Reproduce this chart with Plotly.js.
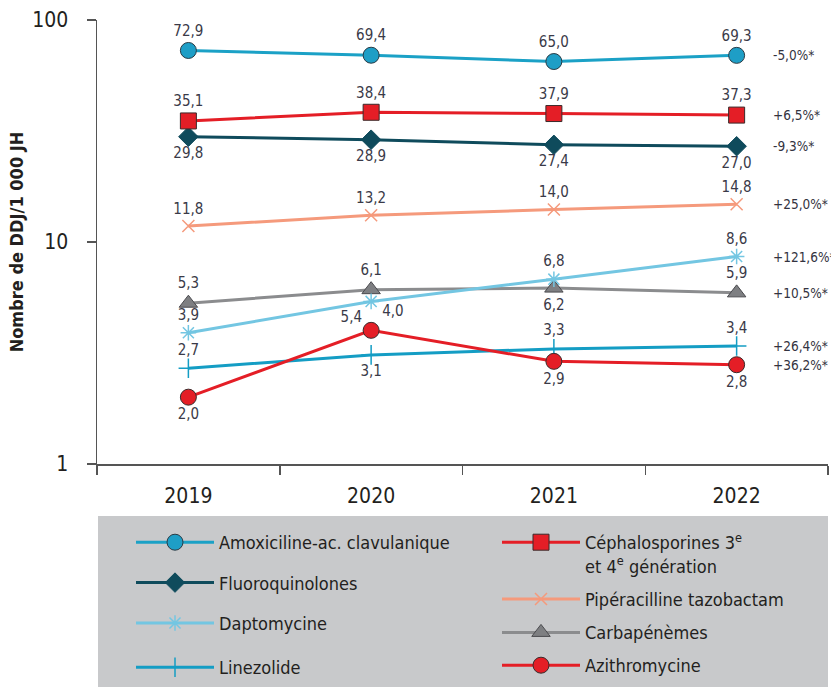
<!DOCTYPE html>
<html>
<head>
<meta charset="utf-8">
<script src="https://cdn.plot.ly/plotly-3.0.1.min.js"></script>
<style>html,body{margin:0;padding:0;background:#fff;}#chart{width:831px;height:687px;}</style>
</head>
<body>
<div id="chart"></div>
<script>
const years = ['2019', '2020', '2021', '2022'];

const amoxValues = [72.9, 69.4, 65.0, 69.3];
const cephValues = [35.1, 38.4, 37.9, 37.3];
const fluoroValues = [29.8, 28.9, 27.4, 27.0];
const pipValues = [11.8, 13.2, 14.0, 14.8];
const daptoValues = [3.9, 5.4, 6.8, 8.6];
const carbaValues = [5.3, 6.1, 6.2, 5.9];
const linezValues = [2.7, 3.1, 3.3, 3.4];
const azithValues = [2.0, 4.0, 2.9, 2.8];

const seriesNames = [
  'Amoxiciline-ac. clavulanique',
  'Céphalosporines 3<sup>e</sup><br>et 4<sup>e</sup> génération',
  'Fluoroquinolones',
  'Pipéracilline tazobactam',
  'Daptomycine',
  'Carbapénèmes',
  'Linezolide',
  'Azithromycine'
];
const pctLabels = ['-5,0%*', '+6,5%*', '-9,3%*', '+25,0%*', '+121,6%*', '+10,5%*', '+26,4%*', '+36,2%*'];

const FONT = 'DejaVu Sans Condensed, Liberation Sans Narrow, Arial Narrow, sans-serif';
const LBL = '#3a3a48';
const fmt = v => v.toFixed(1).replace('.', ',');

function mk(name, vals, color, marker, pos, legend, group) {
  return {
    type: 'scatter', mode: 'lines+markers+text', name: name,
    x: years, y: vals,
    text: vals.map(fmt), textposition: pos,
    textfont: {family: FONT, size: 15, color: LBL},
    line: {color: color, width: 3},
    marker: marker,
    legend: legend, legendgroup: group,
    cliponaxis: false, hoverinfo: 'skip'
  };
}

const T = 'top center', B = 'bottom center';
const data = [
  mk(seriesNames[5], carbaValues, '#8b8c8e', {symbol: 'triangle-up', size: 16, color: '#7e7f82', line: {color: '#4a4a4e', width: 1}}, [T, T, B, T], 'legend2', 'g6'),
  mk(seriesNames[3], pipValues, '#f59a7c', {symbol: 'x-thin-open', size: 12, color: '#f59a7c', line: {color: '#f59a7c', width: 1.5}}, [T, T, T, T], 'legend2', 'g4'),
  mk(seriesNames[4], daptoValues, '#73c6e2', {symbol: 'asterisk-open', size: 13, color: '#73c6e2', line: {color: '#73c6e2', width: 1.5}}, [T, 'bottom left', T, T], 'legend', 'g5'),
  mk(seriesNames[6], linezValues, '#149dc4', {symbol: 'cross-thin-open', size: 14, color: '#149dc4', line: {color: '#149dc4', width: 1.5}}, [T, B, T, T], 'legend3', 'g7'),
  mk(seriesNames[2], fluoroValues, '#0f4b5c', {symbol: 'diamond', size: 15, color: '#0f4b5c', line: {color: '#0f4b5c', width: 1}}, [B, B, B, B], 'legend', 'g3'),
  mk(seriesNames[1], cephValues, '#e41e26', {symbol: 'square', size: 16, color: '#e41e26', line: {color: '#3a2a2a', width: 1}}, [T, T, T, T], 'legend2', 'g2'),
  mk(seriesNames[0], amoxValues, '#1ba1c6', {symbol: 'circle', size: 16, color: '#1e9ec6', line: {color: '#2a3a44', width: 1}}, [T, T, T, T], 'legend', 'g1'),
  mk(seriesNames[7], azithValues, '#e41e26', {symbol: 'circle', size: 16, color: '#e41e26', line: {color: '#3a2a2a', width: 1}}, [B, 'top right', B, B], 'legend4', 'g8')
];
data.forEach(t => { t.legendrank = seriesNames.indexOf(t.name); });

const lastVals = [amoxValues, cephValues, fluoroValues, pipValues, daptoValues, carbaValues, linezValues, azithValues].map(a => a[a.length - 1]);
const annotations = pctLabels.map((p, i) => ({
  xref: 'paper', yref: 'y', x: (771 - 97) / 731, y: Math.log10(lastVals[i]),
  xanchor: 'left', yanchor: 'middle', text: p, showarrow: false,
  font: {family: FONT, size: 13.5, color: '#333340'}
}));

const W = 831, H = 687, plotTop = 20, marginB = 0, plotBottom = 464;
const paperH = H - plotTop - marginB;
const py = p => (H - marginB - p) / paperH;
const px = p => (p - 97) / 731;

function leg(xp, yp, gap, valign) {
  return {
    x: px(xp), y: py(yp), xanchor: 'left', yanchor: 'top',
    bgcolor: 'rgba(0,0,0,0)', itemwidth: 78, tracegroupgap: gap, valign: valign,
    font: {family: FONT, size: 18, color: '#231f20'}, traceorder: 'grouped'
  };
}

const layout = {
  width: W, height: H,
  margin: {l: 97, r: 3, t: plotTop, b: marginB},
  paper_bgcolor: '#ffffff', plot_bgcolor: '#ffffff',
  font: {family: FONT, color: '#231f20'},
  showlegend: true,
  xaxis: {
    type: 'category', categoryorder: 'array', categoryarray: years,
    range: [-0.5, 3.5], tickson: 'boundaries', ticks: 'outside', ticklen: 9,
    tickcolor: '#555', tickwidth: 1.5, showline: true, linecolor: '#555', linewidth: 1.5,
    showgrid: false, zeroline: false, fixedrange: true, ticklabelstandoff: 12,
    tickfont: {family: FONT, size: 21, color: '#231f20'}
  },
  yaxis: {
    type: 'log', range: [0, 2], domain: [py(plotBottom), 1],
    tickvals: [1, 10, 100], ticktext: ['1', '10', '100'],
    ticks: 'outside', ticklen: 9, tickcolor: '#555', tickwidth: 1.5,
    showline: true, linecolor: '#555', linewidth: 1.5, showgrid: false, zeroline: false,
    ticklabelstandoff: 14,
    tickfont: {family: FONT, size: 21, color: '#231f20'},
    title: {text: '<b>Nombre de DDJ/1 000 JH</b>', font: {family: FONT, size: 18, color: '#231f20'}, standoff: 4}
  },
  legend: leg(131, 524, 14, 'middle'),
  legend2: leg(497, 524, 7, 'top'),
  legend3: leg(131, 649, 0, 'middle'),
  legend4: leg(497, 647, 0, 'middle'),
  shapes: [{
    type: 'rect', xref: 'paper', yref: 'paper', layer: 'below',
    x0: px(98), x1: px(828), y0: py(687), y1: py(516),
    fillcolor: '#c8c9cb', line: {width: 0}
  }],
  annotations: annotations
};

Plotly.newPlot('chart', data, layout, {displayModeBar: false, staticPlot: true});
</script>
</body>
</html>
